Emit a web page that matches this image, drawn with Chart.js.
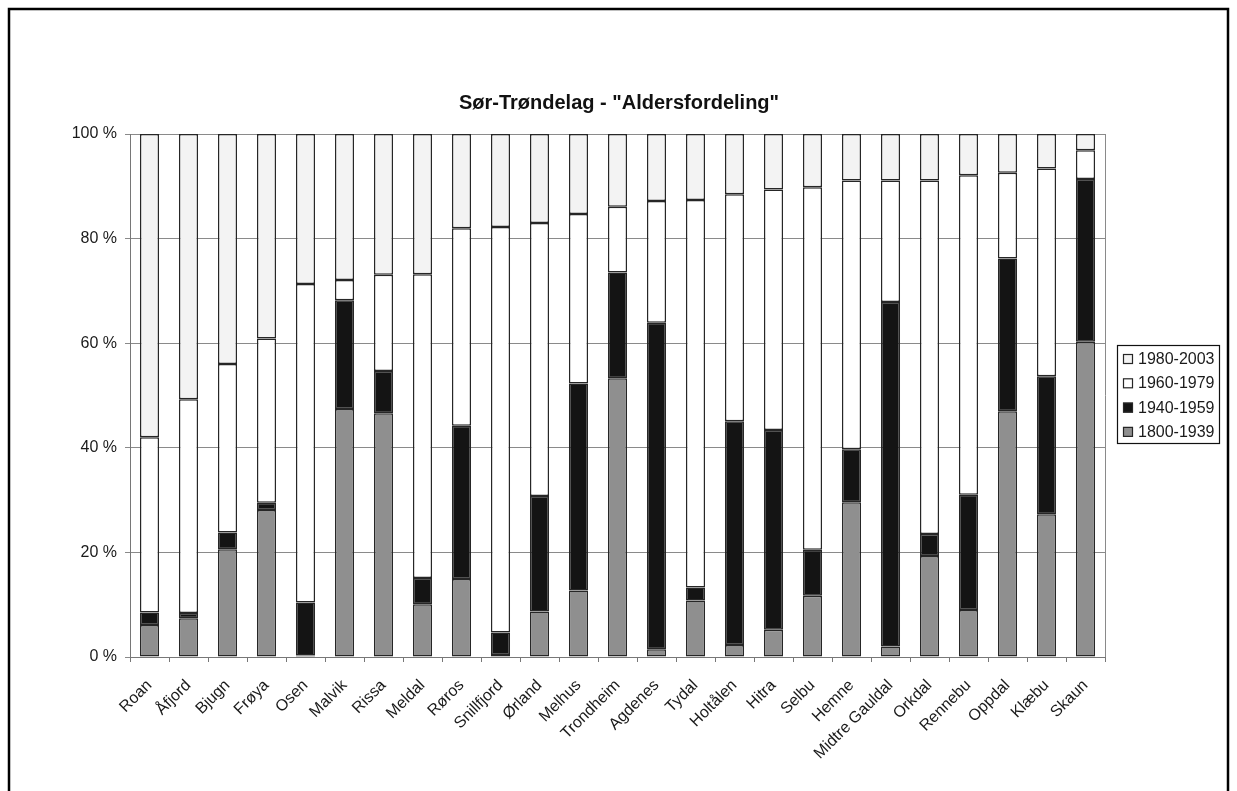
<!DOCTYPE html>
<html>
<head>
<meta charset="utf-8">
<title>Sør-Trøndelag - Aldersfordeling</title>
<script src="https://cdn.jsdelivr.net/npm/chart.js@4/dist/chart.umd.min.js"></script>
<style>
  html, body { margin: 0; padding: 0; background: #ffffff; }
  #wrap { width: 1237px; height: 791px; position: relative; }
</style>
</head>
<body>
<div id="wrap"><canvas id="c" width="1237" height="791"></canvas></div>
<script>
// Municipalities, sorted by share of newest buildings
const kommuner = ['Roan', 'Åfjord', 'Bjugn', 'Frøya', 'Osen', 'Malvik', 'Rissa', 'Meldal', 'Røros',
  'Snillfjord', 'Ørland', 'Melhus', 'Trondheim', 'Agdenes', 'Tydal', 'Holtålen', 'Hitra', 'Selbu',
  'Hemne', 'Midtre Gauldal', 'Orkdal', 'Rennebu', 'Oppdal', 'Klæbu', 'Skaun'];

// Share (%) per construction period
const p1800_1939 = [6.1, 7.4, 20.6, 28.1, 0.3, 47.4, 46.6, 10.1, 14.9, 0.4, 8.7, 12.7, 53.3, 1.5, 10.8, 2.3, 5.2, 11.7, 29.6, 2.0, 19.3, 9.0, 47.0, 27.3, 60.3];
const p1940_1959 = [2.4, 1.0, 3.2, 1.4, 10.1, 20.8, 8.1, 5.0, 29.3, 4.3, 22.1, 39.6, 20.2, 62.4, 2.5, 42.8, 38.2, 8.8, 10.1, 65.9, 4.2, 22.0, 29.2, 26.4, 31.1];
const p1960_1979 = [33.5, 40.9, 32.2, 31.4, 60.9, 3.9, 18.4, 58.1, 37.8, 77.5, 52.2, 32.4, 12.6, 23.3, 74.1, 43.4, 46.0, 69.3, 51.4, 23.2, 67.6, 61.1, 16.4, 39.7, 5.5];
const p1980_2003 = [58.0, 50.7, 44.0, 39.1, 28.7, 27.9, 26.9, 26.8, 18.0, 17.8, 17.0, 15.3, 13.9, 12.8, 12.6, 11.5, 10.6, 10.2, 8.9, 8.9, 8.9, 7.9, 7.4, 6.6, 3.1];

const periodLabels = ['1800-1939', '1940-1959', '1960-1979', '1980-2003'];
const yTicks = [0, 20, 40, 60, 80, 100];
const chartTitle = 'Sør-Trøndelag - "Aldersfordeling"';

const FONT = '"Liberation Sans", Arial, sans-serif';
const edge = '#262626';

function series(label, data, color) {
  return {
    label, data,
    backgroundColor: color,
    borderColor: edge,
    borderWidth: 1.5,
    borderSkipped: false,
    barPercentage: 0.49,
    categoryPercentage: 1.0
  };
}

// Page frame, title, plot border and boxed legend
const decor = {
  id: 'decor',
  afterDraw(chart) {
    const ctx = chart.ctx;
    const a = chart.chartArea;
    ctx.save();
    // right edge of the plot area
    ctx.strokeStyle = '#8a8a8a';
    ctx.lineWidth = 1;
    ctx.beginPath();
    ctx.moveTo(Math.round(a.right) + 0.5, a.top);
    ctx.lineTo(Math.round(a.right) + 0.5, a.bottom);
    ctx.stroke();

    // outer frame
    ctx.strokeStyle = '#000';
    ctx.lineWidth = 2.5;
    ctx.strokeRect(9, 9, 1219, 800);

    // title, centred on the page
    ctx.fillStyle = '#111';
    ctx.font = 'bold 20px ' + FONT;
    ctx.textAlign = 'center';
    ctx.textBaseline = 'middle';
    ctx.fillText(chartTitle, 619, 103);

    // legend (newest period on top)
    const lx = 1117, ly = 345, lw = 102, lh = 98;
    ctx.fillStyle = '#fff';
    ctx.fillRect(lx, ly, lw, lh);
    ctx.strokeStyle = '#111';
    ctx.lineWidth = 1.2;
    ctx.strokeRect(lx + 0.5, ly + 0.5, lw, lh);
    const ds = chart.data.datasets.slice().reverse();
    ctx.font = '16px ' + FONT;
    ctx.textAlign = 'left';
    ctx.textBaseline = 'middle';
    ds.forEach((d, i) => {
      const cy = 359 + i * 24.3;
      ctx.fillStyle = d.backgroundColor;
      ctx.fillRect(lx + 6, cy - 5, 10, 10);
      ctx.strokeStyle = edge;
      ctx.lineWidth = 1.2;
      ctx.strokeRect(lx + 6.5, cy - 4.5, 9, 9);
      ctx.fillStyle = '#1a1a1a';
      ctx.fillText(d.label, lx + 21, cy + 0.5);
    });
    ctx.restore();
  }
};

new Chart(document.getElementById('c'), {
  type: 'bar',
  data: {
    labels: kommuner,
    datasets: [
      series(periodLabels[0], p1800_1939, '#8f8f8f'),
      series(periodLabels[1], p1940_1959, '#141414'),
      series(periodLabels[2], p1960_1979, '#ffffff'),
      series(periodLabels[3], p1980_2003, '#f3f3f3')
    ]
  },
  options: {
    responsive: false,
    animation: false,
    devicePixelRatio: 1,
    layout: { padding: { left: 0, right: 132, top: 134, bottom: 0 } },
    plugins: {
      legend: { display: false },
      tooltip: { enabled: false },
      title: { display: false }
    },
    scales: {
      x: {
        stacked: true,
        offset: true,
        grid: { offset: true, drawOnChartArea: false, drawTicks: true, tickLength: 5, color: '#777' },
        border: { display: true, color: '#777', width: 1 },
        ticks: {
          color: '#1a1a1a',
          font: { family: FONT, size: 16 },
          minRotation: 45, maxRotation: 45, autoSkip: false, padding: 14
        },
        afterFit(scale) { scale.height = 134; }
      },
      y: {
        stacked: true,
        min: 0, max: 100,
        afterBuildTicks(scale) { scale.ticks = yTicks.map(v => ({ value: v })); },
        grid: { color: '#8a8a8a', lineWidth: 1, drawTicks: true, tickLength: 5 },
        border: { display: true, color: '#777', width: 1 },
        ticks: {
          color: '#1a1a1a',
          font: { family: FONT, size: 16 },
          padding: 8,
          callback: v => v + ' %'
        },
        afterFit(scale) { scale.width = 130; }
      }
    }
  },
  plugins: [decor]
});
</script>
</body>
</html>
